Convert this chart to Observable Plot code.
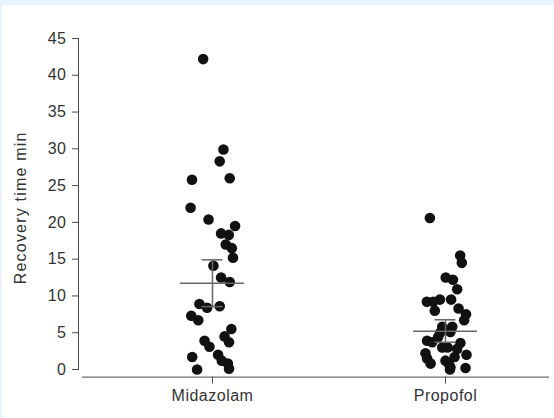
<!DOCTYPE html>
<html>
<head>
<meta charset="utf-8">
<script src="https://cdn.jsdelivr.net/npm/d3@7"></script>
<script src="https://cdn.jsdelivr.net/npm/@observablehq/plot@0.6"></script>
<style>
  html, body { margin: 0; padding: 0; }
  body { width: 554px; height: 418px; background: #eaf3fb; position: relative; overflow: hidden; }
  #bg { position: absolute; left: 2px; top: 5px; right: 0; bottom: 0; background: #fff; }
  #chart { position: absolute; left: 0; top: 0; }
  #chart svg text { letter-spacing: 0.5px; }
  #chart svg g[aria-label="y-axis label"] text { letter-spacing: 1.2px; }
</style>
</head>
<body>
<div id="bg"></div>
<div id="chart"></div>
<script>
// ---- data ----
const categories = ["Midazolam", "Propofol"];
const yTicks = [0, 5, 10, 15, 20, 25, 30, 35, 40, 45];

// recovery time (min), Midazolam group
const midazolam = [42.2, 29.9, 28.3, 25.8, 26.0, 22.0, 20.4, 19.5, 18.5, 18.3,
  17.0, 16.5, 15.2, 14.1, 12.5, 11.9, 8.9, 8.4, 8.6, 7.3, 6.7, 5.5, 4.5, 3.7,
  3.9, 3.1, 1.7, 2.0, 1.2, 0.8, 0.1, 0.0];
// horizontal scatter of each dot (fraction of category spacing)
const midazolamJitter = [-0.040, 0.047, 0.031, -0.088, 0.074, -0.094, -0.017, 0.097,
  0.037, 0.070, 0.057, 0.083, 0.088, 0.004, 0.037, 0.074, -0.056, -0.023, 0.031,
  -0.091, -0.061, 0.081, 0.052, 0.071, -0.034, -0.013, -0.087, 0.024, 0.040,
  0.066, 0.071, -0.066];

// recovery time (min), Propofol group
const propofol = [20.6, 15.5, 14.5, 12.5, 12.2, 10.9, 9.2, 9.2, 9.5, 9.5, 8.0, 8.3,
  7.5, 6.7, 5.8, 5.8, 5.0, 4.4, 3.9, 3.7, 3.6, 3.0, 3.0, 2.8, 2.2, 2.0, 1.5, 0.8,
  1.7, 1.2, 0.8, 0.3, 0.2, 0.0, 5.1];
const propofolJitter = [-0.067, 0.063, 0.070, 0.001, 0.032, 0.050, -0.080, -0.053,
  -0.024, 0.024, -0.046, 0.056, 0.088, 0.080, -0.014, 0.029, -0.023, -0.032,
  -0.079, -0.057, 0.064, -0.014, 0.009, 0.050, -0.086, 0.090, -0.079, -0.064,
  0.039, 0.000, 0.014, 0.021, 0.086, 0.019, 0.021];

// summary bars (mean and error range) per group
const means = [11.73, 5.21];
const errLow = [8.55, 3.71];
const errHigh = [14.91, 6.76];

// ---- build tables ----
const points = [
  ...midazolam.map((v, i) => ({group: 1, jitter: midazolamJitter[i], value: v})),
  ...propofol.map((v, i) => ({group: 2, jitter: propofolJitter[i], value: v}))
];
const summary = categories.map((c, i) => ({
  group: i + 1, mean: means[i], low: errLow[i], high: errHigh[i]
}));

const meanHalf = 0.137;  // half-width of mean line (category units)
const capHalf = 0.045;   // half-width of error caps

const chart = Plot.plot({
  width: 554,
  height: 418,
  marginTop: 38,
  marginBottom: 41.4,
  marginLeft: 78,
  marginRight: 6,
  style: {
    fontFamily: "'Liberation Sans', Arial, sans-serif",
    fontSize: "16px",
    color: "#333",
    background: "transparent"
  },
  x: {domain: [0.425, 2.442]},
  y: {domain: [0, 45], insetBottom: 7.6},
  marks: [
    Plot.frame({anchor: "left", insetBottom: 7.6, stroke: "#4a4a4a"}),
    Plot.frame({anchor: "bottom", insetLeft: 4, stroke: "#4a4a4a"}),
    Plot.axisY({
      ticks: yTicks, tickSize: 6, tickPadding: 6, stroke: "#4a4a4a",
      label: "Recovery time min", labelAnchor: "center", labelArrow: "none", labelOffset: 64
    }),
    Plot.axisX({
      ticks: [1, 2], tickFormat: (d) => categories[d - 1],
      tickSize: 7, tickPadding: 6, stroke: "#4a4a4a", label: null
    }),
    Plot.dot(points, {
      x: (d) => d.group + d.jitter, y: "value",
      r: 5.3, fill: "#111", stroke: "none"
    }),
    Plot.ruleX(summary, {x: "group", y1: "low", y2: "high", stroke: "#666", strokeWidth: 1.5}),
    Plot.ruleY(summary, {y: "high", x1: (d) => d.group - capHalf, x2: (d) => d.group + capHalf, stroke: "#666", strokeWidth: 1.5}),
    Plot.ruleY(summary, {y: "low", x1: (d) => d.group - capHalf, x2: (d) => d.group + capHalf, stroke: "#666", strokeWidth: 1.5}),
    Plot.ruleY(summary, {y: "mean", x1: (d) => d.group - meanHalf, x2: (d) => d.group + meanHalf, stroke: "#666", strokeWidth: 1.5})
  ]
});
document.getElementById("chart").appendChild(chart);
</script>
</body>
</html>
